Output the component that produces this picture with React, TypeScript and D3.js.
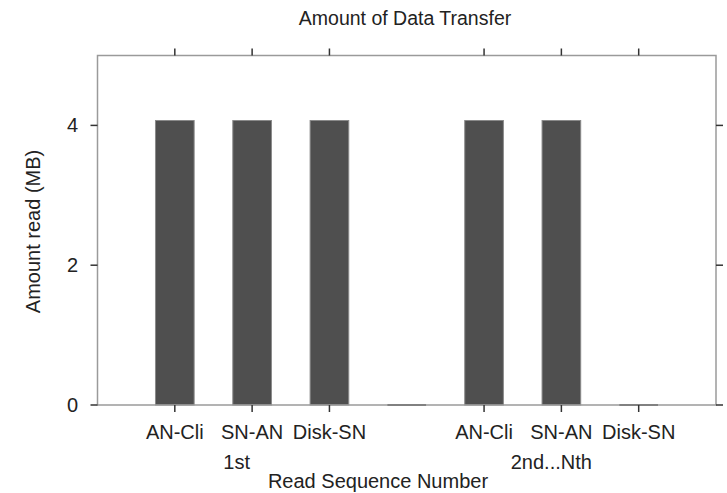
import React from "react";
import * as d3 from "d3";

// Histogram of bytes moved per hop, grouped by read sequence.
const categories: string[] = ["AN-Cli", "SN-AN", "Disk-SN", "", "AN-Cli", "SN-AN", "Disk-SN"];
const amountMB: number[] = [4.07, 4.07, 4.07, 0, 4.07, 4.07, 0];
const groupLabels: string[] = ["1st", "2nd...Nth"];
const groupCenters: number[] = [1.8, 5.87];
const yTicks: number[] = [0, 2, 4];

const W = 727;
const H = 493;
const left = 97.5;
const right = 716;
const top = 55.5;
const bottom = 405;

const FONT = "'Liberation Sans', Arial, Helvetica, sans-serif";
const AXIS = "#9a9a9a";
const TICK = "#333";
const TEXT = "#222";

export default function App() {
  const x = d3.scaleLinear().domain([0, 8]).range([left, right]);
  const y = d3.scaleLinear().domain([0, 5]).range([bottom, top]);
  const barW = x(0.5) - x(0);
  const tickLen = 7;

  const xTickIdx = categories.map((c, i) => (c ? i : -1)).filter((i) => i >= 0);

  return (
    <svg
      width={W}
      height={H}
      style={{ position: "absolute", left: 0, top: 0, background: "#fff" }}
      fontFamily={FONT}
    >
      <text x={405} y={25} textAnchor="middle" fontSize={19.5} fill={TEXT}>
        Amount of Data Transfer
      </text>

      {/* bars */}
      {amountMB.map((v, i) => {
        const xc = x(i + 1);
        const x0 = xc - barW / 2;
        const x1 = xc + barW / 2;
        const y0 = y(0);
        const y1 = y(v);
        return v > 0 ? (
          <rect
            key={i}
            x={x0}
            y={y1}
            width={x1 - x0}
            height={y0 - y1}
            fill="#4f4f4f"
            stroke="#8a8a8a"
            strokeWidth={1}
          />
        ) : null;
      })}

      {/* frame */}
      <rect x={left} y={top} width={right - left} height={bottom - top} fill="none" stroke={AXIS} strokeWidth={1.5} />

      {/* zero-height bars show as a dark segment on the baseline */}
      {amountMB.map((v, i) =>
        v === 0 ? (
          <line key={"z" + i} x1={x(i + 1) - barW / 2} x2={x(i + 1) + barW / 2} y1={y(0)} y2={y(0)} stroke="#707070" strokeWidth={1.5} />
        ) : null
      )}

      {/* y ticks, both sides */}
      {yTicks.map((t) => (
        <g key={t}>
          <line x1={left - tickLen} x2={left} y1={y(t)} y2={y(t)} stroke={TICK} strokeWidth={1.5} />
          <line x1={right} x2={right + tickLen} y1={y(t)} y2={y(t)} stroke={TICK} strokeWidth={1.5} />
          <text x={78} y={y(t) + 7} textAnchor="end" fontSize={20} fill={TEXT}>
            {t}
          </text>
        </g>
      ))}

      {/* x ticks, top and bottom */}
      {xTickIdx.map((i) => (
        <g key={i}>
          <line x1={x(i + 1)} x2={x(i + 1)} y1={top - tickLen} y2={top} stroke={TICK} strokeWidth={1.5} />
          <line x1={x(i + 1)} x2={x(i + 1)} y1={bottom} y2={bottom + tickLen} stroke={TICK} strokeWidth={1.5} />
          <text x={x(i + 1)} y={439} textAnchor="middle" fontSize={20} fill={TEXT}>
            {categories[i]}
          </text>
        </g>
      ))}

      {groupLabels.map((g, k) => (
        <text key={g} x={x(groupCenters[k])} y={468.5} textAnchor="middle" fontSize={20} fill={TEXT}>
          {g}
        </text>
      ))}

      <text x={378} y={488} textAnchor="middle" fontSize={20} fill={TEXT}>
        Read Sequence Number
      </text>

      <text
        transform={`translate(40, 231.5) rotate(-90)`}
        textAnchor="middle"
        fontSize={20}
        fill={TEXT}
      >
        Amount read (MB)
      </text>
    </svg>
  );
}
